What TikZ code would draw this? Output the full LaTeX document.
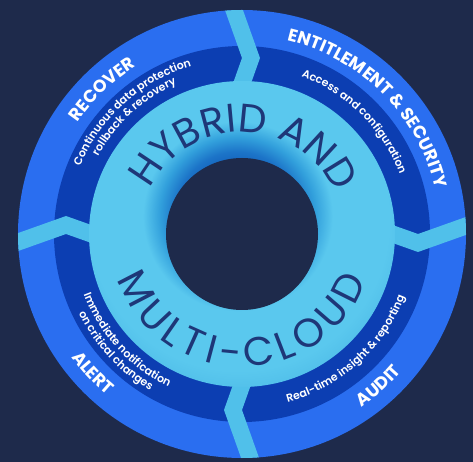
\documentclass[tikz,border=0pt]{standalone}
\usepackage{fontspec}
\setmainfont{Poppins}
\newfontfamily\semifont{Poppins SemiBold}
\usetikzlibrary{decorations.text}

\definecolor{navybg}{RGB}{30,42,75}
\definecolor{ringblue}{RGB}{42,110,240}
\definecolor{bandblue}{RGB}{12,62,178}
\definecolor{sepblue}{RGB}{80,192,234}
\definecolor{torusdark}{RGB}{20,100,190}
\definecolor{torusdeep}{RGB}{28,116,200}
\definecolor{torusmid}{RGB}{50,160,220}
\definecolor{toruslight}{RGB}{90,200,238}
\definecolor{torusedge}{RGB}{78,188,232}
\definecolor{inktext}{RGB}{30,55,120}

\pgfdeclareradialshading{torusshade}{\pgfpoint{-1bp}{4.2bp}}{%
  color(0bp)=(torusdark); color(8.2bp)=(torusdark); color(10.1bp)=(torusdeep);
  color(12.7bp)=(torusmid); color(15.5bp)=(toruslight); color(24.5bp)=(toruslight);
  color(28.6bp)=(torusedge); color(50bp)=(torusedge)}

\newcommand\capfont{\bfseries\fontsize{17.5}{17.5}\selectfont}
\newcommand\smallfont{\semifont\fontsize{11}{11}\selectfont}
\newcommand\bigfont{\fontsize{40}{40}\selectfont}

\begin{document}
\begin{tikzpicture}[x=1pt, y=1pt,
    curved/.style={decorate, decoration={text along path, text color=white,
        text align=center, text={#1}}},
    bigcurved/.style={decorate, decoration={text along path, text color=inktext,
        text align={fit to path}, text={#1}}}]
    \fill[navybg] (-242,-228) rectangle (231,234);
    \useasboundingbox (-242,-228) rectangle (231,234);
    % rings
    \fill[ringblue] (0,0) circle[radius=224];
    \fill[bandblue] (0,0) circle[radius=188];
    \begin{scope}
        \clip (0,0) circle[radius=224];
        \foreach \a in {0,90,180,270}
            \fill[sepblue, rotate=-\a] (-21,235) -- (0,176) -- (-11,145)
                -- (7,145) -- (18,176) -- (-3,235) -- cycle;
    \end{scope}
    \shade[shading=torusshade] (0,0) circle[radius=153];
    \fill[navybg] (0,0) circle[radius=76];
    % centre words
    \path[bigcurved={|\bigfont|HYBRID AND}] (154:102) arc[start angle=154, end angle=26, radius=102];
    \path[bigcurved={|\bigfont|MULTI-CLOUD}] (200:133) arc[start angle=200, end angle=339.5, radius=133];
    % recover
    \path[curved={|\capfont|RECOVER}] (184:198.5) arc[start angle=184, end angle=84, radius=198.5];
    \path[curved={|\smallfont|Continuous data protection}] (182:175.5) arc[start angle=182, end angle=82, radius=175.5];
    \path[curved={|\smallfont|rollback {\&} recovery}] (182.6:163.5) arc[start angle=182.6, end angle=82.6, radius=163.5];
    % entitlement
    \path[curved={|\capfont|ENTITLEMENT {\&} SECURITY}] (105:198.5) arc[start angle=105, end angle=-15, radius=198.5];
    \path[curved={|\smallfont|Access and configuration}] (105:168.5) arc[start angle=105, end angle=-15, radius=168.5];
    % alert
    \path[curved={|\capfont|ALERT}] (163:210.5) arc[start angle=163, end angle=283, radius=210.5];
    \path[curved={|\smallfont|Immediate notification}] (162.6:169.5) arc[start angle=162.6, end angle=282.6, radius=169.5];
    \path[curved={|\smallfont|on critical changes}] (162.7:181.5) arc[start angle=162.7, end angle=282.7, radius=181.5];
    % audit
    \path[curved={|\capfont|AUDIT}] (252:210.5) arc[start angle=252, end angle=372, radius=210.5];
    \path[curved={|\smallfont|Real-time insight {\&} reporting}] (252:174.5) arc[start angle=252, end angle=372, radius=174.5];
\end{tikzpicture}
\end{document}
